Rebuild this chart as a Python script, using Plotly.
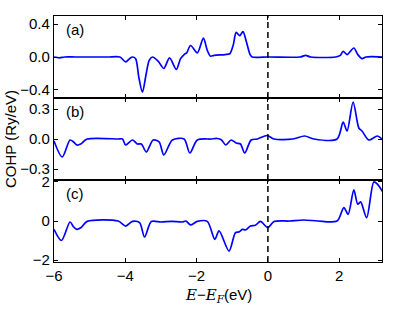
import plotly.graph_objects as go

# COHP curves (energy in eV relative to E_F)
energy_a = [-6.0, -5.85, -5.7, -5.4, -4.5, -4.15, -3.99, -3.88, -3.80, -3.71, -3.62, -3.52, -3.42, -3.33,
            -3.24, -3.08, -2.92, -2.76, -2.57, -2.45, -2.35, -2.28, -2.17, -1.98, -1.81, -1.70, -1.61,
            -1.51, -1.2, -1.07, -0.97, -0.89, -0.79, -0.70, -0.60, -0.50, -0.44, -0.30, 0.0, 0.9, 1.06,
            1.2, 1.9, 2.03, 2.11, 2.22, 2.41, 2.52, 2.64, 2.75, 2.9, 3.2]
cohp_a = [0.0, -0.01, 0.0, 0.0, 0.0, 0.0, -0.06, -0.02, 0.0, -0.02, -0.25, -0.43, -0.22, -0.04,
          0.0, -0.05, -0.14, -0.01, -0.15, -0.02, 0.03, 0.05, 0.14, 0.05, 0.23, 0.08, 0.01,
          0.02, 0.03, 0.04, 0.15, 0.30, 0.26, 0.31, 0.18, 0.03, 0.0, -0.005, 0.0, 0.0, 0.02,
          0.0, 0.0, 0.02, 0.07, 0.03, 0.11, 0.03, -0.02, 0.0, 0.005, 0.0]

energy_b = [-6.0, -5.77, -5.55, -5.45, -5.36, -5.25, -5.07, -4.2, -4.08, -3.99, -3.80, -3.66, -3.55,
            -3.41, -3.22, -3.05, -2.92, -2.68, -2.35, -2.19, -1.98, -1.6, -1.42, -1.30, -1.18, -1.03,
            -0.89, -0.77, -0.65, -0.47, -0.30, -0.02, 0.17, 0.7, 1.03, 1.29, 1.94, 2.11, 2.22, 2.39,
            2.55, 2.64, 2.83, 3.07, 3.22]
cohp_b = [-0.02, -0.18, -0.01, -0.03, -0.06, -0.05, 0.0, 0.0, 0.0, -0.06, -0.01, -0.05, -0.05,
          -0.13, -0.01, -0.03, -0.16, -0.01, 0.0, -0.14, -0.01, 0.0, 0.005, -0.01, -0.06, -0.01,
          -0.04, -0.05, -0.14, -0.01, 0.0, 0.035, 0.0, 0.0, 0.03, 0.0, 0.0, 0.17, 0.08, 0.37,
          0.11, 0.08, -0.01, 0.03, -0.01]

energy_c = [-6.0, -5.79, -5.55, -5.45, -5.36, -5.25, -5.07, -4.2, -3.99, -3.80, -3.60, -3.46, -3.27,
            -3.0, -2.7, -2.4, -2.3, -2.17, -1.98, -1.7, -1.49, -1.37, -1.09, -0.91, -0.80, -0.72,
            -0.62, -0.49, -0.35, -0.21, 0.0, 0.17, 0.6, 1.01, 1.4, 1.94, 2.13, 2.25, 2.41, 2.52,
            2.60, 2.77, 2.97, 3.07, 3.22]
cohp_c = [-0.43, -1.0, -0.05, -0.3, -0.43, -0.35, -0.02, 0.0, -0.26, -0.02, -0.08, -0.82, -0.03,
          -0.05, -0.02, -0.05, 0.0, -0.2, -0.02, -0.02, -0.94, -0.51, -1.54, -0.6, -0.55, -0.43,
          -0.45, -0.26, -0.22, -0.02, -0.34, -0.03, 0.0, 0.05, 0.0, 0.0, 0.69, 0.34, 1.6, 0.86,
          0.98, 0.17, 2.0, 1.89, 1.49]

panel_labels = ["(a)", "(b)", "(c)"]
x_ticks = [-6, -4, -2, 0, 2]
y_ticks = [[-0.4, 0.0, 0.4], [-0.3, 0.0, 0.3], [-2, 0, 2]]
y_ranges = [[-0.5, 0.5], [-0.41, 0.41], [-2.1, 2.1]]

font = "Liberation Sans, Arial, sans-serif"
fig = go.Figure()

series = [(energy_a, cohp_a), (energy_b, cohp_b), (energy_c, cohp_c)]
for i, (xs, ys) in enumerate(series):
    sfx = "" if i == 0 else str(i + 1)
    fig.add_trace(go.Scatter(x=xs, y=ys, mode="lines", xaxis="x" + sfx, yaxis="y" + sfx,
                             line=dict(color="#0000ff", width=1.7, shape="spline", smoothing=0.8),
                             showlegend=False, hoverinfo="skip"))

domains = [[2 / 3, 1], [1 / 3, 2 / 3], [0, 1 / 3]]
for i in range(3):
    sfx = "" if i == 0 else str(i + 1)
    axis_common = dict(showline=True, linecolor="black", linewidth=1.2, mirror="ticks",
                       ticks="inside", ticklen=4, tickwidth=1, tickcolor="black",
                       showgrid=False, zeroline=False, automargin=False,
                       tickfont=dict(family=font, size=15, color="black"))
    fig.layout["xaxis" + sfx] = dict(axis_common, range=[-6, 3.2], tickvals=x_ticks,
                                     anchor="y" + sfx, domain=[0, 1],
                                     showticklabels=(i == 2))
    fig.layout["yaxis" + sfx] = dict(axis_common, range=y_ranges[i], tickvals=y_ticks[i],
                                     tickformat=".1f" if i < 2 else "d",
                                     anchor="x" + sfx, domain=domains[i])
    fig.add_annotation(text=panel_labels[i], xref="x" + sfx + " domain", yref="y" + sfx + " domain",
                       x=0.03, y=0.96, xanchor="left", yanchor="top", showarrow=False,
                       font=dict(family=font, size=15, color="black"))
    fig.add_shape(type="line", xref="x" + sfx, yref="y" + sfx + " domain", x0=0, x1=0, y0=0, y1=1,
                  line=dict(color="black", width=1.5, dash="6px,4px"), layer="above")

fig.add_annotation(text="COHP (Ry/eV)", xref="paper", yref="paper", x=-44 / 328, y=0.5,
                   xanchor="center", yanchor="middle", textangle=-90, showarrow=False,
                   font=dict(family=font, size=15, color="black"))
fig.add_annotation(text="<span style='font-family:DejaVu Serif;font-style:italic'>E</span>\u2212"
                        "<span style='font-family:DejaVu Serif;font-style:italic'>E</span>"
                        "<sub><span style='font-family:DejaVu Serif;font-style:italic'>F</span></sub>(eV)",
                   xref="paper", yref="paper", x=0.5, y=-33 / 246, xanchor="center", yanchor="middle",
                   showarrow=False, font=dict(family=font, size=15, color="black"))

fig.update_layout(width=400, height=329, margin=dict(l=54, r=18, t=16, b=67),
                  paper_bgcolor="white", plot_bgcolor="white")

# drop the browser's default 8px body margin so the figure sits at the page corner
fig.write_html("out.html", config={"displayModeBar": False},
               post_script="document.body.style.margin = '0';")
